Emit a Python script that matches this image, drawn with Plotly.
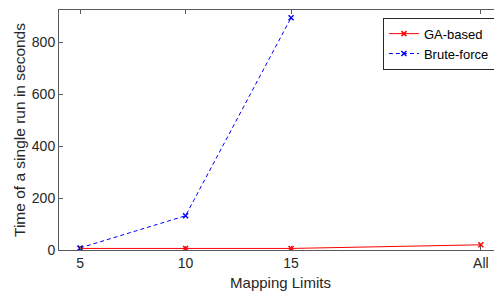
import plotly.graph_objects as go

x_vals = [5, 10, 15, 24]
x_labels = ["5", "10", "15", "All"]
ga_based = [6, 6, 6, 20]
brute_force = [8, 132, 895]

axis_col = "#5a5a5a"
text_col = "#262626"
font_fam = "Liberation Sans, Arial, sans-serif"

fig = go.Figure()
fig.add_trace(go.Scatter(
    x=x_vals, y=ga_based, name="GA-based", mode="lines+markers",
    line=dict(color="red", width=1),
    marker=dict(symbol="x-thin", size=5, line=dict(color="red", width=1.5)),
))
fig.add_trace(go.Scatter(
    x=x_vals[:3], y=brute_force, name="Brute-force", mode="lines+markers",
    line=dict(color="blue", width=1, dash="4px,3px"),
    marker=dict(symbol="x-thin", size=5, line=dict(color="blue", width=1.5)),
))

# page body has an 8px margin; figure sized so the plot lands where the reference has it
fig.update_layout(
    width=494, height=289,
    margin=dict(l=51, r=0, t=2, b=47, autoexpand=False),
    paper_bgcolor="white", plot_bgcolor="white",
    font=dict(family=font_fam, size=14, color=text_col),
    showlegend=True,
    legend=dict(
        x=0.984, y=0.968, xanchor="right", yanchor="top",
        bordercolor="#262626", borderwidth=1, bgcolor="white",
        font=dict(size=13, color="black"),
        tracegroupgap=0, itemwidth=30,
    ),
)
fig.update_xaxes(
    range=[4, 25], tickmode="array", tickvals=x_vals, ticktext=x_labels,
    showgrid=False, zeroline=False, showline=True, linecolor=axis_col, linewidth=1,
    mirror="ticks", ticks="inside", ticklen=4, tickcolor=axis_col,
    title=dict(text="Mapping Limits", font=dict(size=15, color=text_col), standoff=7),
)
fig.update_yaxes(
    range=[0, 925], tickmode="array", tickvals=[0, 200, 400, 600, 800],
    showgrid=False, zeroline=False, showline=True, linecolor=axis_col, linewidth=1,
    mirror="ticks", ticks="inside", ticklen=4, tickcolor=axis_col,
    title=dict(text="Time of a single run in seconds", font=dict(size=15.5, color=text_col), standoff=2),
)

fig.write_html("out.html")
